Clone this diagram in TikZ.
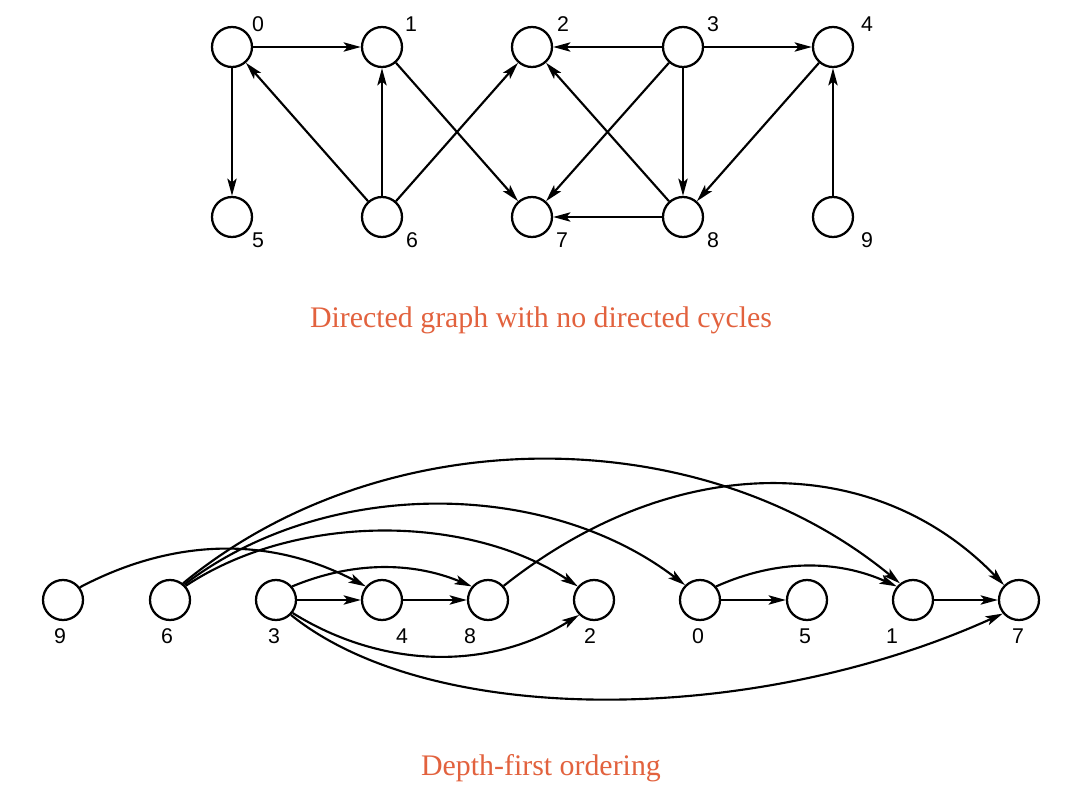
\documentclass[tikz,border=0pt]{standalone}
\usepackage{fontspec}
\setmainfont{Liberation Serif}
\newfontfamily\labfont{Liberation Sans}
\usetikzlibrary{arrows.meta}
\definecolor{capred}{RGB}{226,98,62}
\begin{document}
\begin{tikzpicture}[x=0.75pt,y=0.75pt,
  vert/.style={circle,draw,line width=1.7pt,minimum size=30pt,inner sep=0pt},
  lab/.style={font=\labfont\fontsize{16}{16}\selectfont,inner sep=0pt},
  edge/.style={line width=1.6pt,-{Stealth[length=13pt,width=7pt,inset=3pt]}},
  caption/.style={font=\fontsize{22.4}{24}\selectfont,text=capred,anchor=base,inner sep=0pt}]
\useasboundingbox (0,0) rectangle (1072,-810);
% ---------- top graph ----------
\node[vert] (t0) at (232,-47) {};
\node[vert] (t1) at (382,-47) {};
\node[vert] (t2) at (532,-47) {};
\node[vert] (t3) at (683,-47) {};
\node[vert] (t4) at (833,-47) {};
\node[vert] (t5) at (232,-217) {};
\node[vert] (t6) at (382,-217) {};
\node[vert] (t7) at (532,-217) {};
\node[vert] (t8) at (683,-217) {};
\node[vert] (t9) at (833,-217) {};
\node[lab] (lt0) at (258,-24) {0};
\node[lab] (lt1) at (411,-24) {1};
\node[lab] (lt2) at (563,-24) {2};
\node[lab] (lt3) at (713,-24) {3};
\node[lab] (lt4) at (867,-24) {4};
\node[lab] (lt5) at (258,-240) {5};
\node[lab] (lt6) at (412,-240) {6};
\node[lab] (lt7) at (562,-240) {7};
\node[lab] (lt8) at (713,-240) {8};
\node[lab] (lt9) at (867,-240) {9};
\draw[edge] (t0) -- (t1);
\draw[edge] (t0) -- (t5);
\draw[edge] (t6) -- (t0);
\draw[edge] (t6) -- (t1);
\draw[edge] (t6) -- (t2);
\draw[edge] (t1) -- (t7);
\draw[edge] (t3) -- (t2);
\draw[edge] (t3) -- (t4);
\draw[edge] (t3) -- (t7);
\draw[edge] (t3) -- (t8);
\draw[edge] (t4) -- (t8);
\draw[edge] (t8) -- (t2);
\draw[edge] (t8) -- (t7);
\draw[edge] (t9) -- (t4);
\node[caption] (cap1) at (541,-327) {Directed graph with no directed cycles};
% ---------- bottom graph ----------
\node[vert] (b9) at (63,-600) {};
\node[vert] (b6) at (170,-600) {};
\node[vert] (b3) at (276,-600) {};
\node[vert] (b4) at (382,-600) {};
\node[vert] (b8) at (488,-600) {};
\node[vert] (b2) at (594,-600) {};
\node[vert] (b0) at (700,-600) {};
\node[vert] (b5) at (807,-600) {};
\node[vert] (b1) at (913,-600) {};
\node[vert] (b7) at (1019,-600) {};
\node[lab] (lb9) at (60,-636) {9};
\node[lab] (lb6) at (167,-636) {6};
\node[lab] (lb3) at (274,-636) {3};
\node[lab] (lb4) at (402,-636) {4};
\node[lab] (lb8) at (470,-636) {8};
\node[lab] (lb2) at (590,-636) {2};
\node[lab] (lb0) at (698,-636) {0};
\node[lab] (lb5) at (805,-636) {5};
\node[lab] (lb1) at (892,-636) {1};
\node[lab] (lb7) at (1018,-636) {7};
\draw[edge] (b3) -- (b4);
\draw[edge] (b4) -- (b8);
\draw[edge] (b0) -- (b5);
\draw[edge] (b1) -- (b7);
\draw[edge] (b9.37) .. controls +(95,50) and +(-95,50) .. (b4.140);
\draw[edge] (b6.52) .. controls +(200,165) and +(-200,165) .. (b1.128);
\draw[edge] (b6.47) .. controls +(140,107) and +(-140,107) .. (b0.135);
\draw[edge] (b6.42) .. controls +(110,73) and +(-110,73) .. (b2.140);
\draw[edge] (b3.40) .. controls +(60,25) and +(-60,25) .. (b8.140);
\draw[edge] (b8.42) .. controls +(170,135) and +(-130,135) .. (b7.135);
\draw[edge] (b0.40) .. controls +(60,27) and +(-60,27) .. (b1.140);
\draw[edge] (b3.-38) .. controls +(90,-56) and +(-90,-56) .. (b2.-135);
\draw[edge] (b3.-45) .. controls +(140,-113) and +(-250,-113) .. (b7.-140);
\node[caption] (cap2) at (541,-775) {Depth-first ordering};
\end{tikzpicture}
\end{document}
